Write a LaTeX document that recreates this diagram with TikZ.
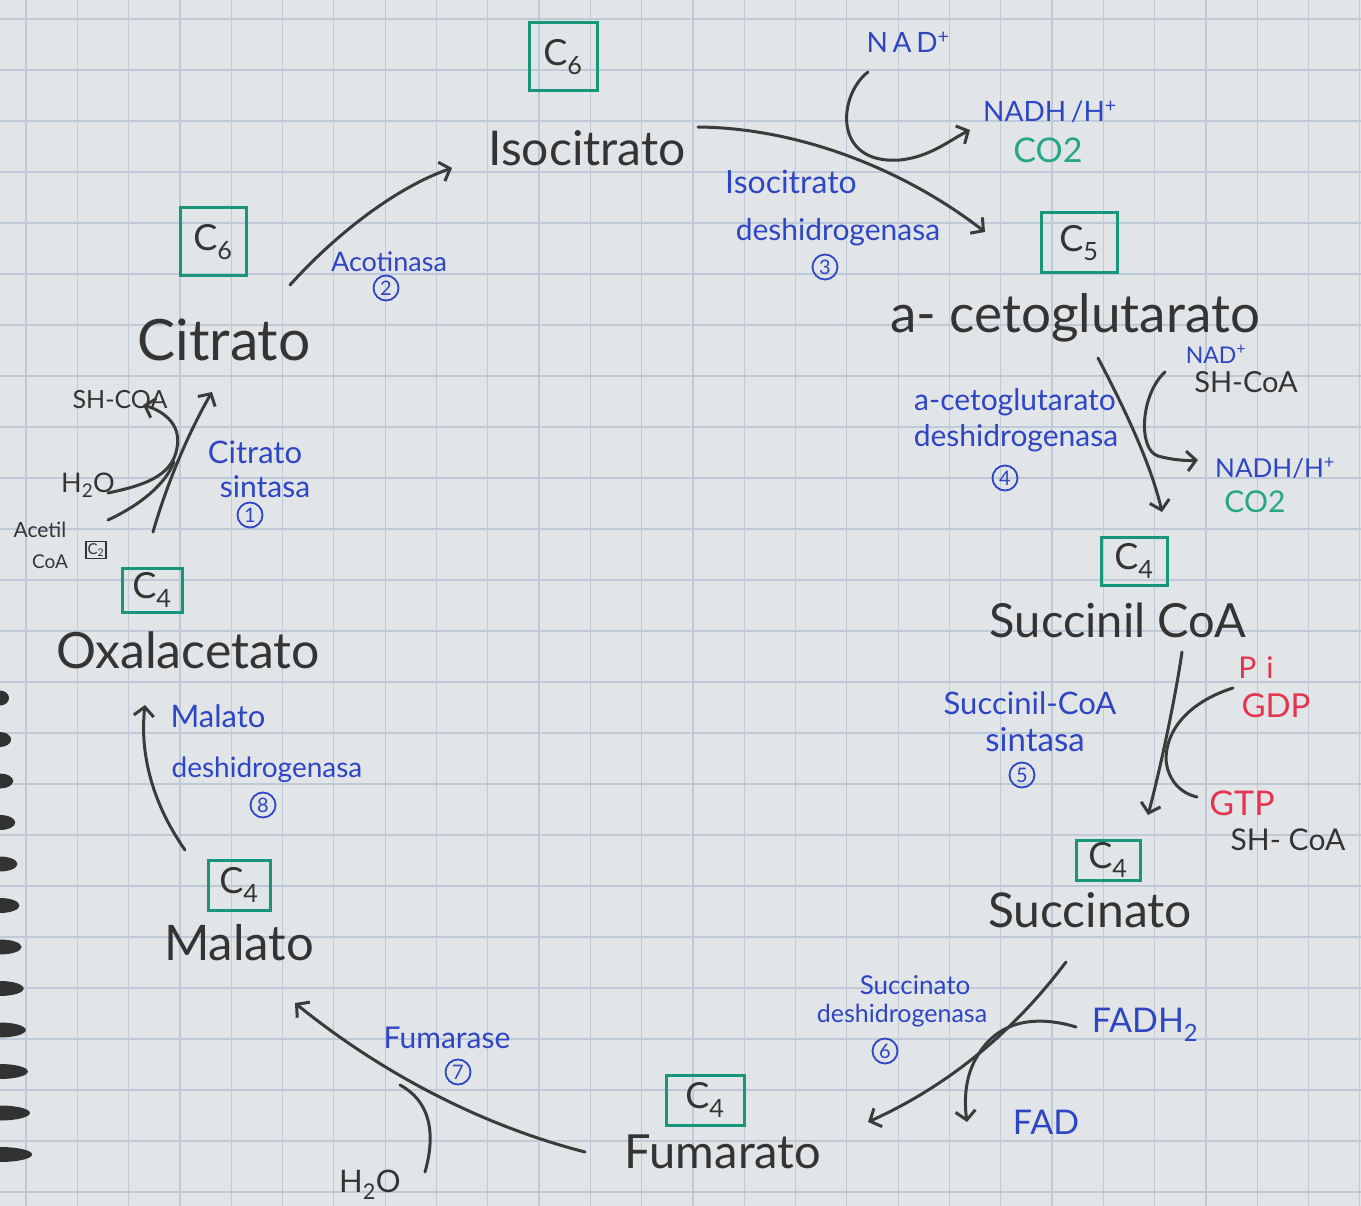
\documentclass[tikz,border=0pt]{standalone}
\usepackage{fontspec}
\setmainfont{Lato}
\usetikzlibrary{arrows.meta}
\definecolor{paper}{HTML}{E1E5E7}
\definecolor{gridc}{HTML}{BFCAD9}
\definecolor{pencilc}{HTML}{3A3B3B}
\definecolor{textc}{HTML}{343434}
\definecolor{inkblue}{HTML}{2E45C4}
\definecolor{boxgreen}{HTML}{17967C}
\definecolor{cogreen}{HTML}{25A688}
\definecolor{inkred}{HTML}{E5344F}
\newcommand{\fsz}[1]{\fontsize{#1}{#1}\selectfont}
\tikzset{
  pencil/.style={draw=pencilc, line width=3pt, line cap=round},
  arr/.style={pencil, -{Straight Barb[length=9pt,width=20pt]}},
  mainlbl/.style={text=textc, inner sep=0pt, font=\fsz{48}},
  cbox/.style={draw=boxgreen, line width=3pt, text=textc, inner sep=0pt, font=\fsz{36}},
  enz/.style={text=inkblue, inner sep=0pt},
  sidel/.style={inner sep=0pt},
  num/.style={circle, draw=inkblue, line width=1.8pt, text=inkblue, inner sep=0pt, minimum size=25pt, font=\fsz{20}},
  gridline/.style={draw=gridc, line width=1.2pt},
  hole/.style={fill=pencilc!85!black},
}
\begin{document}
\begin{tikzpicture}[x=1pt,y=-1pt]
\useasboundingbox (0,0) rectangle (1361,1206);
\fill[paper] (0,0) rectangle (1361,1206);
% grid
\foreach \i in {0,...,26} \draw[gridline] ({26+51.3*\i},0) -- ({26+51.3*\i},1206);
\foreach \j in {0,...,23} \draw[gridline] (0,{19+51*\j}) -- (1361,{19+51*\j});
% binding holes
\foreach \k in {0,...,11} \fill[hole] (0,{698+41.5*\k}) ellipse ({9+2.1*\k} and 7.5);

% ---------- C boxes ----------
\node[cbox, minimum width=68pt, minimum height=68pt] (c6a) at (563,57) {C\textsubscript{6}};
\node[cbox, minimum width=66pt, minimum height=68pt] (c6b) at (213,242) {C\textsubscript{6}};
\node[cbox, minimum width=76pt, minimum height=60pt] (c5) at (1079,243) {C\textsubscript{5}};
\node[cbox, minimum width=66pt, minimum height=48pt] (c4a) at (1134,561) {C\textsubscript{4}};
\node[cbox, minimum width=64pt, minimum height=40pt] (c4b) at (1108,860) {C\textsubscript{4}};
\node[cbox, minimum width=78pt, minimum height=50pt] (c4c) at (705,1100) {C\textsubscript{4}};
\node[cbox, minimum width=62pt, minimum height=50pt] (c4d) at (239,885) {C\textsubscript{4}};
\node[cbox, minimum width=60pt, minimum height=44pt] (c4e) at (152,590) {C\textsubscript{4}};

% ---------- main metabolites ----------
\node[mainlbl] (iso) at (587,148) {Isocitrato};
\node[mainlbl, font=\fsz{57}] (cit) at (224,340) {Citrato};
\node[mainlbl, font=\fsz{53}] (akg) at (1075,318) {a- cetoglutarato};
\node[mainlbl, font=\fsz{47}] (scoa) at (1118,620) {Succinil CoA};
\node[mainlbl] (succ) at (1090,910) {Succinato};
\node[mainlbl, font=\fsz{47}] (fum) at (723,1152) {Fumarato};
\node[mainlbl, font=\fsz{49}] (mal) at (239,943) {Malato};
\node[mainlbl, font=\fsz{50}] (oxa) at (188,650) {Oxalacetato};

% ---------- enzyme labels ----------
\node[enz, font=\fsz{27}] (e2) at (389,262) {Acotinasa};
\node[num] (n2) at (386,288) {2};
\node[enz, font=\fsz{32}] (e3a) at (791,182) {Isocitrato};
\node[enz, font=\fsz{30}] (e3b) at (838,232) {deshidrogenasa};
\node[num] (n3) at (825,267) {3};
\node[enz, font=\fsz{30}] (e4a) at (1015,402) {a-cetoglutarato};
\node[enz, font=\fsz{30}] (e4b) at (1016,438) {deshidrogenasa};
\node[num] (n4) at (1005,478) {4};
\node[enz, font=\fsz{31}] (e5a) at (1030,703) {Succinil-CoA};
\node[enz, font=\fsz{33}] (e5b) at (1035,740) {sintasa};
\node[num] (n5) at (1022,775) {5};
\node[enz, font=\fsz{26}] (e6a) at (915,985) {Succinato};
\node[enz, font=\fsz{25}] (e6b) at (902,1016) {deshidrogenasa};
\node[num] (n6) at (885,1051) {6};
\node[enz, font=\fsz{30}] (e7) at (447,1038) {Fumarase};
\node[num] (n7) at (458,1072) {7};
\node[enz, font=\fsz{31}] (e8a) at (218,716) {Malato};
\node[enz, font=\fsz{28}] (e8b) at (267,770) {deshidrogenasa};
\node[num] (n8) at (263,805) {8};
\node[enz, font=\fsz{31}] (e1a) at (255,452) {Citrato};
\node[enz, font=\fsz{30}] (e1b) at (265,487) {sintasa};
\node[num] (n1) at (250,515) {1};

% ---------- side substances ----------
\node[sidel, text=inkblue, font=\fsz{28}] (nad1) at (908,42) {N\,A\,D\textsuperscript{+}};
\node[sidel, text=inkblue, font=\fsz{28}] (nadh1) at (1050,112) {NADH\,/H\textsuperscript{+}};
\node[sidel, text=cogreen, font=\fsz{34}] (co21) at (1048,150) {CO2};
\node[sidel, text=inkblue, font=\fsz{23}] (nad2) at (1216,354) {NAD\textsuperscript{+}};
\node[sidel, text=textc, font=\fsz{29}] (sh2) at (1246,382) {SH-CoA};
\node[sidel, text=inkblue, font=\fsz{26}] (nadh2) at (1275,468) {NADH/H\textsuperscript{+}};
\node[sidel, text=cogreen, font=\fsz{30}] (co22) at (1255,502) {CO2};
\node[sidel, text=inkred, font=\fsz{30}] (pi) at (1256,668) {P\,\,i};
\node[sidel, text=inkred, font=\fsz{33}] (gdp) at (1276,706) {GDP};
\node[sidel, text=inkred, font=\fsz{34}] (gtp) at (1242,803) {GTP};
\node[sidel, text=textc, font=\fsz{30}] (sh5) at (1288,840) {SH- CoA};
\node[sidel, text=inkblue, font=\fsz{34}] (fadh) at (1145,1025) {FADH\textsubscript{2}};
\node[sidel, text=inkblue, font=\fsz{34}] (fad) at (1046,1122) {FAD};
\node[sidel, text=textc, font=\fsz{31}] (h2o7) at (370,1185) {H\textsubscript{2}O};
\node[sidel, text=textc, font=\fsz{25}] (sh1) at (120,400) {SH-COA};
\node[sidel, text=textc, font=\fsz{27}] (h2o1) at (88,485) {H\textsubscript{2}O};
\node[sidel, text=textc, font=\fsz{21}] (acet) at (40,530) {Acetil};
\node[sidel, text=textc, font=\fsz{19}] (coa) at (50,562) {CoA};
\node[draw=textc, line width=1.4pt, text=textc, inner sep=1.5pt, font=\fsz{15}] (c2) at (96,550) {C\textsubscript{2}};

% ---------- connector coordinates ----------
\coordinate (a2s) at (290,285);  \coordinate (a2e) at (452,168);
\coordinate (a3s) at (698,127);  \coordinate (a3e) at (985,232);
\coordinate (s3s) at (868,72);   \coordinate (s3e) at (970,130);
\coordinate (a4s) at (1098,358); \coordinate (a4e) at (1162,512);
\coordinate (s4s) at (1165,372); \coordinate (s4e) at (1198,460);
\coordinate (a5s) at (1182,652); \coordinate (a5e) at (1148,815);
\coordinate (s5s) at (1233,688); \coordinate (s5e) at (1197,797);
\coordinate (a6s) at (1066,962); \coordinate (a6e) at (868,1122);
\coordinate (s6s) at (1076,1027);\coordinate (s6e) at (967,1122);
\coordinate (a7s) at (585,1152); \coordinate (a7e) at (295,1003);
\coordinate (s7s) at (425,1172); \coordinate (s7e) at (400,1085);
\coordinate (a8s) at (185,850);  \coordinate (a8e) at (145,705);
\coordinate (a1s) at (153,532);  \coordinate (a1e) at (212,392);
\coordinate (s1s) at (108,520);  \coordinate (s1m) at (174,462);
\coordinate (s1b) at (108,493);  \coordinate (s1e) at (143,405);

% ---------- connectors ----------
\draw[arr] (a2s) .. controls (335,235) and (395,188) .. (a2e);
\draw[arr] (a3s) .. controls (800,128) and (905,170) .. (a3e);
\draw[arr] (s3s) .. controls (838,95) and (832,165) .. (900,160) .. controls (930,157) and (950,140) .. (s3e);
\draw[arr] (a4s) .. controls (1120,400) and (1150,460) .. (a4e);
\draw[arr] (s4s) .. controls (1140,395) and (1138,450) .. (1158,456) .. controls (1172,460) and (1188,461) .. (s4e);
\draw[arr] (a5s) .. controls (1175,700) and (1160,770) .. (a5e);
\draw[pencil] (s5s) .. controls (1195,700) and (1166,725) .. (1166,760) .. controls (1168,780) and (1180,793) .. (s5e);
\draw[arr] (a6s) .. controls (1015,1030) and (950,1085) .. (a6e);
\draw[arr] (s6s) .. controls (1040,1016) and (1000,1018) .. (978,1055) .. controls (965,1075) and (964,1100) .. (s6e);
\draw[arr] (a7s) .. controls (480,1125) and (380,1072) .. (a7e);
\draw[pencil] (s7s) .. controls (437,1130) and (428,1100) .. (s7e);
\draw[arr] (a8s) .. controls (150,800) and (140,750) .. (a8e);
\draw[arr] (a1s) .. controls (168,480) and (190,430) .. (a1e);
\draw[pencil] (s1s) .. controls (140,505) and (165,485) .. (s1m);
\draw[arr] (s1b) .. controls (140,486) and (172,478) .. (177,448) .. controls (182,422) and (160,410) .. (s1e);
\end{tikzpicture}
\end{document}
